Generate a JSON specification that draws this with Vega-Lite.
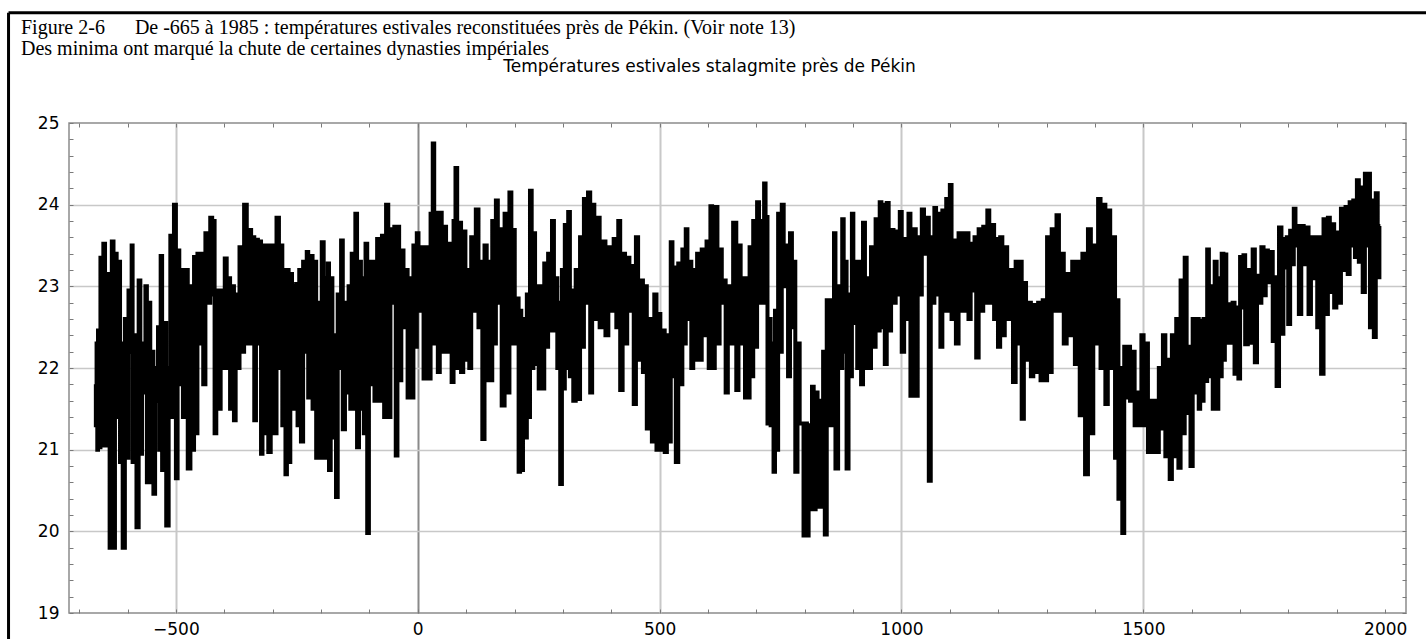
{
  "$schema": "https://vega.github.io/schema/vega-lite/v6.json",
  "width": 1337,
  "height": 490,
  "autosize": {"type": "none"},
  "padding": {"left": 69, "top": 123, "right": 20, "bottom": 26},
  "background": "white",
  "title": {
    "text": ["Figure 2-6\u00a0\u00a0\u00a0\u00a0\u00a0\u00a0De -665 à 1985 : températures estivales reconstituées près de Pékin. (Voir note 13)", "Des minima ont marqué la chute de certaines dynasties impériales"],
    "anchor": "start",
    "frame": "group",
    "font": "Liberation Serif",
    "fontSize": 20,
    "fontWeight": "normal",
    "color": "black",
    "lineHeight": 21,
    "dx": -48,
    "dy": 52
  },
  "config": {"view": {"stroke": "#8c8c8c", "strokeWidth": 1.5}},
  "resolve": {"axis": {"x": "independent", "y": "independent"}},
  "data": {"values": [
{"year":-666,"temp":21.8},{"year":-665,"temp":21.3},{"year":-663,"temp":22.3},{"year":-662,"temp":21.0},{"year":-660,"temp":22.46},{"year":-658,"temp":21.03},{"year":-654,"temp":23.35},{"year":-652,"temp":21.05},{"year":-648,"temp":23.52},{"year":-645,"temp":21.05},{"year":-639,"temp":23.15},{"year":-635,"temp":19.8},{"year":-630,"temp":23.55},{"year":-628,"temp":19.8},{"year":-624,"temp":23.4},{"year":-621,"temp":21.4},{"year":-617,"temp":23.3},{"year":-614,"temp":20.85},{"year":-612,"temp":22.3},{"year":-608,"temp":19.8},{"year":-603,"temp":22.6},{"year":-599,"temp":20.9},{"year":-597,"temp":22.95},{"year":-592,"temp":22.2},{"year":-591,"temp":23.5},{"year":-588,"temp":20.85},{"year":-584,"temp":22.4},{"year":-579,"temp":20.05},{"year":-575,"temp":23.07},{"year":-572,"temp":20.95},{"year":-568,"temp":22.3},{"year":-565,"temp":21.7},{"year":-561,"temp":23.0},{"year":-559,"temp":20.6},{"year":-554,"temp":22.8},{"year":-552,"temp":20.6},{"year":-548,"temp":22.2},{"year":-545,"temp":20.46},{"year":-541,"temp":22.0},{"year":-538,"temp":21.6},{"year":-536,"temp":22.5},{"year":-533,"temp":21.0},{"year":-530,"temp":23.37},{"year":-527,"temp":20.75},{"year":-523,"temp":22.55},{"year":-517,"temp":20.07},{"year":-513,"temp":22.0},{"year":-510,"temp":23.62},{"year":-507,"temp":21.4},{"year":-501,"temp":24.0},{"year":-499,"temp":20.65},{"year":-494,"temp":23.44},{"year":-492,"temp":21.8},{"year":-488,"temp":23.2},{"year":-483,"temp":21.4},{"year":-479,"temp":23.2},{"year":-472,"temp":20.77},{"year":-468,"temp":23.0},{"year":-464,"temp":21.0},{"year":-461,"temp":23.36},{"year":-459,"temp":21.2},{"year":-452,"temp":23.4},{"year":-448,"temp":22.3},{"year":-445,"temp":23.4},{"year":-442,"temp":21.8},{"year":-436,"temp":23.65},{"year":-431,"temp":22.8},{"year":-427,"temp":23.84},{"year":-423,"temp":22.9},{"year":-421,"temp":23.8},{"year":-419,"temp":21.2},{"year":-414,"temp":22.95},{"year":-410,"temp":21.5},{"year":-405,"temp":22.95},{"year":-401,"temp":22.0},{"year":-397,"temp":23.34},{"year":-393,"temp":22.0},{"year":-390,"temp":23.1},{"year":-386,"temp":21.5},{"year":-381,"temp":23.0},{"year":-379,"temp":21.36},{"year":-374,"temp":22.9},{"year":-370,"temp":22.0},{"year":-367,"temp":23.48},{"year":-363,"temp":22.2},{"year":-355,"temp":24.0},{"year":-352,"temp":22.3},{"year":-346,"temp":23.69},{"year":-343,"temp":22.3},{"year":-339,"temp":23.6},{"year":-337,"temp":21.36},{"year":-332,"temp":23.57},{"year":-329,"temp":22.3},{"year":-325,"temp":23.55},{"year":-323,"temp":20.95},{"year":-319,"temp":23.5},{"year":-315,"temp":21.2},{"year":-310,"temp":23.5},{"year":-308,"temp":20.97},{"year":-300,"temp":23.5},{"year":-296,"temp":21.2},{"year":-288,"temp":23.84},{"year":-286,"temp":22.0},{"year":-281,"temp":23.5},{"year":-279,"temp":21.3},{"year":-274,"temp":23.2},{"year":-273,"temp":20.7},{"year":-268,"temp":23.2},{"year":-266,"temp":20.85},{"year":-261,"temp":23.15},{"year":-259,"temp":21.5},{"year":-253,"temp":23.0},
{"year":-250,"temp":23.03},{"year":-247,"temp":21.3},{"year":-243,"temp":23.2},{"year":-240,"temp":21.1},{"year":-234,"temp":23.3},{"year":-231,"temp":22.2},{"year":-228,"temp":23.42},{"year":-225,"temp":21.64},{"year":-219,"temp":23.37},{"year":-216,"temp":21.5},{"year":-212,"temp":23.3},{"year":-208,"temp":20.9},{"year":-205,"temp":22.8},{"year":-201,"temp":20.9},{"year":-196,"temp":23.54},{"year":-193,"temp":20.9},{"year":-190,"temp":23.1},{"year":-187,"temp":21.2},{"year":-185,"temp":23.28},{"year":-182,"temp":20.75},{"year":-178,"temp":23.1},{"year":-175,"temp":21.15},{"year":-171,"temp":22.4},{"year":-167,"temp":20.42},{"year":-164,"temp":22.9},{"year":-160,"temp":22.0},{"year":-157,"temp":23.56},{"year":-153,"temp":21.25},{"year":-148,"temp":22.8},{"year":-145,"temp":21.7},{"year":-141,"temp":23.0},{"year":-138,"temp":21.5},{"year":-135,"temp":23.4},{"year":-131,"temp":21.5},{"year":-127,"temp":23.89},{"year":-124,"temp":21.03},{"year":-119,"temp":23.3},{"year":-116,"temp":21.5},{"year":-113,"temp":23.1},{"year":-110,"temp":21.2},{"year":-106,"temp":23.52},{"year":-103,"temp":19.98},{"year":-99,"temp":23.3},{"year":-96,"temp":21.8},{"year":-91,"temp":23.3},{"year":-88,"temp":21.6},{"year":-80,"temp":23.58},{"year":-77,"temp":21.6},{"year":-71,"temp":23.62},{"year":-68,"temp":21.4},{"year":-63,"temp":24.0},{"year":-59,"temp":21.4},{"year":-54,"temp":23.7},{"year":-50,"temp":22.8},{"year":-47,"temp":23.73},{"year":-44,"temp":20.93},{"year":-40,"temp":23.73},{"year":-37,"temp":21.85},{"year":-31,"temp":23.44},{"year":-28,"temp":22.5},{"year":-23,"temp":23.2},{"year":-19,"temp":21.64},{"year":-14,"temp":23.1},{"year":-11,"temp":21.64},{"year":-7,"temp":23.5},{"year":-4,"temp":22.26},{"year":0,"temp":23.65},{"year":3,"temp":22.7},{"year":10,"temp":23.48},{"year":14,"temp":21.87},{"year":22,"temp":23.48},{"year":25,"temp":21.87},{"year":28,"temp":23.89},{"year":30,"temp":22.5},{"year":32,"temp":24.75},{"year":36,"temp":22.3},{"year":40,"temp":23.9},{"year":43,"temp":21.95},{"year":48,"temp":23.9},{"year":51,"temp":22.2},{"year":57,"temp":23.73},{"year":60,"temp":22.2},{"year":65,"temp":23.52},{"year":68,"temp":22.2},{"year":72,"temp":21.83},{"year":76,"temp":23.8},{"year":80,"temp":24.45},{"year":83,"temp":22.0},{"year":88,"temp":23.78},{"year":91,"temp":21.95},{"year":97,"temp":23.67},{"year":100,"temp":22.1},{"year":105,"temp":23.2},{"year":108,"temp":22.0},{"year":113,"temp":23.6},{"year":116,"temp":22.7},{"year":124,"temp":23.94},{"year":127,"temp":22.5},{"year":132,"temp":23.3},{"year":135,"temp":21.13},{"year":141,"temp":23.5},{"year":144,"temp":21.85},{"year":149,"temp":23.3},{"year":152,"temp":21.85},{"year":156,"temp":23.8},{"year":159,"temp":22.3},{"year":164,"temp":24.05},{"year":167,"temp":22.8},{"year":172,"temp":23.7},{"year":175,"temp":21.54},{"year":184,"temp":23.89},{"year":187,"temp":21.7},{"year":192,"temp":24.15},{"year":195,"temp":22.3},{"year":199,"temp":23.69},{"year":202,"temp":22.3},{"year":207,"temp":22.85},{"year":210,"temp":20.73},
{"year":213,"temp":22.7},{"year":215,"temp":20.75},{"year":220,"temp":22.6},{"year":223,"temp":21.15},{"year":228,"temp":22.9},{"year":230,"temp":21.4},{"year":234,"temp":24.17},{"year":237,"temp":22.0},{"year":241,"temp":23.65},{"year":244,"temp":22.05},{"year":248,"temp":23.0},{"year":252,"temp":21.75},{"year":256,"temp":23.0},{"year":259,"temp":21.75},{"year":264,"temp":23.28},{"year":267,"temp":22.26},{"year":272,"temp":23.4},{"year":275,"temp":22.46},{"year":280,"temp":23.8},{"year":283,"temp":22.46},{"year":287,"temp":23.1},{"year":290,"temp":22.0},{"year":293,"temp":22.8},{"year":296,"temp":20.58},{"year":300,"temp":23.2},{"year":302,"temp":21.75},{"year":306,"temp":23.75},{"year":309,"temp":22.0},{"year":313,"temp":23.91},{"year":316,"temp":21.9},{"year":320,"temp":22.95},{"year":323,"temp":21.6},{"year":330,"temp":23.2},{"year":333,"temp":21.62},{"year":338,"temp":23.6},{"year":341,"temp":22.26},{"year":346,"temp":24.07},{"year":349,"temp":22.8},{"year":355,"temp":24.15},{"year":358,"temp":21.7},{"year":363,"temp":24.0},{"year":367,"temp":22.6},{"year":374,"temp":23.84},{"year":378,"temp":22.5},{"year":386,"temp":23.55},{"year":390,"temp":22.4},{"year":398,"temp":23.48},{"year":401,"temp":22.7},{"year":409,"temp":23.58},{"year":412,"temp":22.5},{"year":417,"temp":23.8},{"year":420,"temp":21.73},{"year":427,"temp":23.4},{"year":430,"temp":22.3},{"year":436,"temp":23.35},{"year":439,"temp":22.7},{"year":445,"temp":23.25},{"year":448,"temp":21.56},{"year":454,"temp":23.6},{"year":457,"temp":22.1},{"year":464,"temp":23.07},{"year":467,"temp":21.95},{"year":472,"temp":23.0},{"year":475,"temp":21.26},{"year":482,"temp":22.6},{"year":486,"temp":21.1},{"year":492,"temp":22.9},{"year":495,"temp":21.0},{"year":500,"temp":22.66},{"year":503,"temp":21.0},{"year":509,"temp":22.46},{"year":512,"temp":20.97},{"year":518,"temp":22.4},{"year":521,"temp":21.1},{"year":525,"temp":23.54},{"year":528,"temp":21.9},{"year":532,"temp":23.23},{"year":535,"temp":20.85},{"year":542,"temp":23.28},{"year":545,"temp":21.8},{"year":549,"temp":23.45},{"year":552,"temp":22.3},{"year":556,"temp":23.7},{"year":559,"temp":22.6},{"year":564,"temp":23.3},{"year":567,"temp":22.0},{"year":572,"temp":23.2},{"year":575,"temp":22.1},{"year":580,"temp":23.4},{"year":584,"temp":22.1},{"year":590,"temp":23.45},{"year":594,"temp":22.4},{"year":600,"temp":23.55},{"year":603,"temp":22.0},{"year":607,"temp":23.98},{"year":610,"temp":22.0},{"year":618,"temp":23.97},{"year":621,"temp":22.3},{"year":627,"temp":23.45},{"year":630,"temp":22.8},{"year":635,"temp":23.07},{"year":638,"temp":21.7},{"year":644,"temp":23.0},{"year":647,"temp":22.3},{"year":657,"temp":23.78},{"year":660,"temp":21.73},{"year":666,"temp":23.5},{"year":669,"temp":22.3},{"year":675,"temp":23.1},{"year":678,"temp":21.64},
{"year":681,"temp":23.1},{"year":684,"temp":21.64},{"year":688,"temp":23.48},{"year":691,"temp":21.9},{"year":696,"temp":23.8},{"year":699,"temp":22.26},{"year":704,"temp":24.03},{"year":707,"temp":22.8},{"year":711,"temp":23.8},{"year":714,"temp":22.8},{"year":718,"temp":24.26},{"year":720,"temp":22.8},{"year":722,"temp":23.85},{"year":724,"temp":21.32},{"year":728,"temp":22.6},{"year":731,"temp":21.3},{"year":734,"temp":22.3},{"year":737,"temp":20.73},{"year":740,"temp":22.7},{"year":743,"temp":21.0},{"year":747,"temp":23.89},{"year":750,"temp":22.2},{"year":755,"temp":24.0},{"year":758,"temp":23.0},{"year":764,"temp":23.5},{"year":767,"temp":21.9},{"year":772,"temp":23.65},{"year":775,"temp":22.5},{"year":779,"temp":23.3},{"year":782,"temp":20.73},{"year":788,"temp":22.3},{"year":791,"temp":21.32},{"year":796,"temp":21.32},{"year":799,"temp":19.95},{"year":803,"temp":21.32},{"year":806,"temp":19.95},{"year":810,"temp":21.3},{"year":813,"temp":20.27},{"year":817,"temp":21.77},{"year":820,"temp":20.27},{"year":825,"temp":21.7},{"year":828,"temp":20.3},{"year":833,"temp":21.6},{"year":836,"temp":20.3},{"year":840,"temp":22.2},{"year":843,"temp":19.96},{"year":848,"temp":22.83},{"year":851,"temp":21.3},{"year":856,"temp":22.83},{"year":859,"temp":21.3},{"year":862,"temp":23.65},{"year":865,"temp":20.77},{"year":873,"temp":23.0},{"year":876,"temp":22.0},{"year":879,"temp":23.82},{"year":882,"temp":22.2},{"year":885,"temp":23.3},{"year":888,"temp":20.77},{"year":893,"temp":22.9},{"year":896,"temp":21.9},{"year":899,"temp":23.89},{"year":902,"temp":22.55},{"year":907,"temp":23.3},{"year":910,"temp":22.0},{"year":915,"temp":23.3},{"year":918,"temp":21.8},{"year":923,"temp":23.78},{"year":926,"temp":22.0},{"year":931,"temp":23.1},{"year":934,"temp":22.0},{"year":940,"temp":23.48},{"year":943,"temp":22.26},{"year":950,"temp":23.82},{"year":953,"temp":22.46},{"year":957,"temp":24.03},{"year":960,"temp":22.5},{"year":964,"temp":24.0},{"year":967,"temp":22.05},{"year":972,"temp":24.02},{"year":975,"temp":22.46},{"year":982,"temp":23.69},{"year":985,"temp":22.8},{"year":991,"temp":23.67},{"year":994,"temp":22.9},{"year":999,"temp":23.91},{"year":1002,"temp":22.2},{"year":1009,"temp":23.58},{"year":1012,"temp":22.6},{"year":1017,"temp":23.89},{"year":1020,"temp":21.66},{"year":1028,"temp":23.7},{"year":1031,"temp":21.66},{"year":1036,"temp":23.6},{"year":1039,"temp":22.9},{"year":1045,"temp":23.94},{"year":1048,"temp":23.4},{"year":1055,"temp":23.84},{"year":1058,"temp":20.62},{"year":1063,"temp":23.6},{"year":1066,"temp":22.8},{"year":1070,"temp":23.96},{"year":1073,"temp":22.9},{"year":1079,"temp":23.89},{"year":1082,"temp":22.26},{"year":1087,"temp":23.93},{"year":1090,"temp":22.7},{"year":1095,"temp":24.07},{"year":1098,"temp":22.7},{"year":1102,"temp":24.24},{"year":1105,"temp":22.6},{"year":1111,"temp":23.56},{"year":1114,"temp":22.3},{"year":1122,"temp":23.65},{"year":1125,"temp":22.7},{"year":1137,"temp":23.65},{"year":1140,"temp":22.6},{"year":1146,"temp":23.52},{"year":1149,"temp":22.95},
{"year":1153,"temp":23.6},{"year":1156,"temp":22.13},{"year":1163,"temp":23.7},{"year":1166,"temp":22.7},{"year":1172,"temp":23.73},{"year":1175,"temp":22.8},{"year":1180,"temp":23.93},{"year":1183,"temp":22.8},{"year":1190,"temp":23.75},{"year":1193,"temp":22.6},{"year":1198,"temp":23.58},{"year":1201,"temp":22.26},{"year":1207,"temp":23.6},{"year":1210,"temp":22.4},{"year":1217,"temp":23.48},{"year":1220,"temp":22.6},{"year":1229,"temp":23.2},{"year":1232,"temp":21.83},{"year":1240,"temp":23.3},{"year":1243,"temp":22.3},{"year":1247,"temp":23.3},{"year":1250,"temp":21.38},{"year":1256,"temp":23.04},{"year":1259,"temp":22.1},{"year":1266,"temp":22.8},{"year":1269,"temp":21.9},{"year":1276,"temp":22.77},{"year":1279,"temp":21.95},{"year":1286,"temp":22.8},{"year":1289,"temp":21.85},{"year":1295,"temp":22.83},{"year":1298,"temp":21.85},{"year":1304,"temp":23.6},{"year":1307,"temp":21.95},{"year":1314,"temp":23.7},{"year":1317,"temp":22.7},{"year":1324,"temp":23.87},{"year":1327,"temp":22.7},{"year":1334,"temp":23.4},{"year":1337,"temp":22.3},{"year":1346,"temp":23.15},{"year":1349,"temp":22.4},{"year":1357,"temp":23.3},{"year":1360,"temp":22.05},{"year":1367,"temp":23.3},{"year":1370,"temp":21.42},{"year":1378,"temp":23.4},{"year":1381,"temp":20.7},{"year":1390,"temp":23.7},{"year":1393,"temp":21.2},{"year":1400,"temp":23.5},{"year":1403,"temp":22.3},{"year":1410,"temp":24.07},{"year":1413,"temp":22.0},{"year":1420,"temp":24.0},{"year":1423,"temp":21.56},{"year":1430,"temp":23.93},{"year":1433,"temp":22.0},{"year":1440,"temp":23.6},{"year":1443,"temp":20.9},{"year":1447,"temp":22.83},{"year":1450,"temp":20.4},{"year":1455,"temp":22.0},{"year":1458,"temp":19.98},{"year":1463,"temp":22.26},{"year":1466,"temp":21.64},{"year":1471,"temp":22.26},{"year":1474,"temp":21.6},{"year":1480,"temp":22.2},{"year":1484,"temp":21.3},{"year":1490,"temp":21.7},{"year":1493,"temp":21.3},{"year":1499,"temp":22.4},{"year":1502,"temp":21.3},{"year":1508,"temp":22.3},{"year":1511,"temp":20.97},{"year":1518,"temp":21.6},{"year":1521,"temp":20.97},{"year":1527,"temp":21.6},{"year":1530,"temp":20.97},{"year":1534,"temp":22.0},{"year":1537,"temp":21.26},{"year":1544,"temp":22.4},{"year":1547,"temp":20.92},{"year":1553,"temp":22.1},{"year":1556,"temp":20.64},{"year":1562,"temp":22.4},{"year":1565,"temp":20.92},{"year":1571,"temp":22.6},{"year":1574,"temp":20.78},{"year":1580,"temp":23.07},{"year":1583,"temp":21.2},{"year":1588,"temp":23.35},{"year":1591,"temp":21.45},{"year":1596,"temp":22.26},{"year":1599,"temp":20.8},{"year":1605,"temp":22.6},{"year":1608,"temp":21.7},{"year":1613,"temp":22.6},{"year":1616,"temp":21.5},
{"year":1619,"temp":22.58},{"year":1622,"temp":21.6},{"year":1627,"temp":22.6},{"year":1630,"temp":21.84},{"year":1634,"temp":23.45},{"year":1637,"temp":21.9},{"year":1642,"temp":23.0},{"year":1645,"temp":21.5},{"year":1650,"temp":23.3},{"year":1653,"temp":21.5},{"year":1657,"temp":23.1},{"year":1660,"temp":21.9},{"year":1664,"temp":23.4},{"year":1667,"temp":22.1},{"year":1670,"temp":23.39},{"year":1673,"temp":22.31},{"year":1679,"temp":22.78},{"year":1682,"temp":22.31},{"year":1687,"temp":22.8},{"year":1690,"temp":21.93},{"year":1695,"temp":22.74},{"year":1698,"temp":21.87},{"year":1702,"temp":23.36},{"year":1705,"temp":22.74},{"year":1709,"temp":23.38},{"year":1712,"temp":22.29},{"year":1720,"temp":23.2},{"year":1723,"temp":22.31},{"year":1729,"temp":23.45},{"year":1732,"temp":22.07},{"year":1738,"temp":23.13},{"year":1741,"temp":22.8},{"year":1747,"temp":23.48},{"year":1750,"temp":22.89},{"year":1756,"temp":23.44},{"year":1759,"temp":23.05},{"year":1766,"temp":23.42},{"year":1769,"temp":22.33},{"year":1774,"temp":23.11},{"year":1777,"temp":21.78},{"year":1784,"temp":23.72},{"year":1787,"temp":22.42},{"year":1792,"temp":23.58},{"year":1795,"temp":23.23},{"year":1798,"temp":23.6},{"year":1801,"temp":22.54},{"year":1806,"temp":23.68},{"year":1809,"temp":23.27},{"year":1813,"temp":23.95},{"year":1816,"temp":23.5},{"year":1820,"temp":23.74},{"year":1823,"temp":22.66},{"year":1830,"temp":23.74},{"year":1833,"temp":23.27},{"year":1840,"temp":23.72},{"year":1843,"temp":22.66},{"year":1850,"temp":23.6},{"year":1853,"temp":23.1},{"year":1858,"temp":23.6},{"year":1861,"temp":22.5},{"year":1866,"temp":23.6},{"year":1869,"temp":21.93},{"year":1876,"temp":23.82},{"year":1879,"temp":22.66},{"year":1884,"temp":23.84},{"year":1887,"temp":22.93},{"year":1893,"temp":23.76},{"year":1896,"temp":22.74},{"year":1902,"temp":23.66},{"year":1905,"temp":22.8},{"year":1912,"temp":23.95},{"year":1915,"temp":23.2},{"year":1921,"temp":23.97},{"year":1924,"temp":23.15},{"year":1929,"temp":24.03},{"year":1932,"temp":23.5},{"year":1936,"temp":24.05},{"year":1939,"temp":23.36},{"year":1944,"temp":24.3},{"year":1947,"temp":23.3},{"year":1952,"temp":24.21},{"year":1955,"temp":22.93},{"year":1961,"temp":24.38},{"year":1964,"temp":23.5},{"year":1967,"temp":24.38},{"year":1970,"temp":22.5},{"year":1975,"temp":24.05},{"year":1978,"temp":22.38},{"year":1983,"temp":24.14},{"year":1986,"temp":23.11},{"year":1990,"temp":23.74}
  ]},
  "layer": [
    {
      "mark": {"type": "line", "color": "black", "strokeWidth": 4, "interpolate": "step"},
      "encoding": {
        "x": {"field": "year", "type": "quantitative",
          "scale": {"domain": [-721, 2043], "nice": false, "zero": false},
          "axis": {"orient": "bottom", "values": [-700,-600,-500,-400,-300,-200,-100,0,100,200,300,400,500,600,700,800,900,1000,1100,1200,1300,1400,1500,1600,1700,1800,1900,2000],
            "format": "d",
            "labelExpr": "datum.value % 500 == 0 ? datum.label : ''",
            "labelFont": "DejaVu Sans", "labelFontSize": 17, "labelColor": "black", "labelPadding": 12, "labelFlush": false, "labelOverlap": false,
            "tickSize": -4, "tickColor": "#7a7a7a", "tickWidth": 1, "domain": false,
            "grid": true, "gridWidth": 2,
            "gridColor": {"condition": {"test": "datum.value == 0", "value": "#8a8a8a"}, "value": "#c8c8c8"},
            "gridOpacity": {"condition": {"test": "datum.value % 500 == 0 && datum.value < 2000", "value": 1}, "value": 0},
            "title": null}},
        "y": {"field": "temp", "type": "quantitative",
          "scale": {"domain": [19, 25], "nice": false, "zero": false},
          "axis": {"orient": "left", "values": [19,19.2,19.4,19.6,19.8,20,20.2,20.4,20.6,20.8,21,21.2,21.4,21.6,21.8,22,22.2,22.4,22.6,22.8,23,23.2,23.4,23.6,23.8,24,24.2,24.4,24.6,24.8,25],
            "labelExpr": "datum.value % 1 == 0 ? format(datum.value, 'd') : ''",
            "labelFont": "DejaVu Sans", "labelFontSize": 17, "labelColor": "black", "labelPadding": 14, "labelFlush": false, "labelOverlap": false,
            "tickSize": -4, "tickColor": "#7a7a7a", "tickWidth": 1, "domain": false,
            "grid": true, "gridWidth": 1.5, "gridColor": "#c8c8c8",
            "gridOpacity": {"condition": {"test": "datum.value % 1 == 0 && datum.value > 19 && datum.value < 25", "value": 1}, "value": 0},
            "title": null}}
      }
    },
    {
      "data": {"values": [{"frame": "top"}]},
      "mark": {"type": "rule", "color": "black", "strokeWidth": 3},
      "encoding": {
        "x": {"datum": -846, "type": "quantitative",
          "scale": {"domain": [-721, 2043], "nice": false, "zero": false},
          "axis": {"orient": "top", "values": [-700,-600,-500,-400,-300,-200,-100,0,100,200,300,400,500,600,700,800,900,1000,1100,1200,1300,1400,1500,1600,1700,1800,1900,2000],
            "labels": false, "tickSize": -4, "tickColor": "#7a7a7a", "tickWidth": 1, "domain": false, "grid": false,
            "title": "Températures estivales stalagmite près de Pékin",
            "titleFont": "DejaVu Sans", "titleFontSize": 17, "titleFontWeight": "normal", "titleColor": "black",
            "titleX": 640, "titleY": -52, "titleBaseline": "alphabetic", "titleAnchor": "middle", "titleAlign": "center"}},
        "x2": {"datum": 2150},
        "y": {"datum": 26.35, "type": "quantitative",
          "scale": {"domain": [19, 25], "nice": false, "zero": false},
          "axis": {"orient": "right", "values": [19,19.2,19.4,19.6,19.8,20,20.2,20.4,20.6,20.8,21,21.2,21.4,21.6,21.8,22,22.2,22.4,22.6,22.8,23,23.2,23.4,23.6,23.8,24,24.2,24.4,24.6,24.8,25],
            "labels": false, "tickSize": -4, "tickColor": "#7a7a7a", "tickWidth": 1, "domain": false, "grid": false, "title": null}}
      }
    },
    {
      "data": {"values": [{"frame": "left"}]},
      "mark": {"type": "rule", "color": "black", "strokeWidth": 3},
      "encoding": {
        "x": {"datum": -846, "type": "quantitative", "scale": {"domain": [-721, 2043], "nice": false, "zero": false}, "axis": null},
        "y": {"datum": 26.35, "type": "quantitative", "scale": {"domain": [19, 25], "nice": false, "zero": false}, "axis": null},
        "y2": {"datum": 18.3}
      }
    }
  ]
}
